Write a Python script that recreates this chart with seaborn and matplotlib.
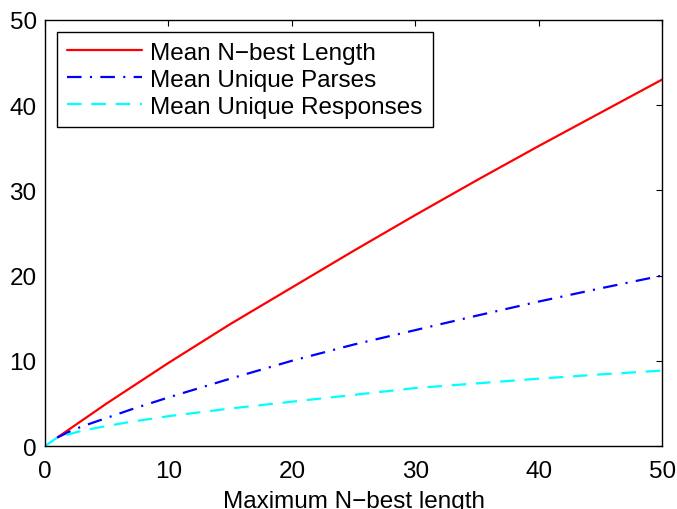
import numpy as np
import pandas as pd
import matplotlib
matplotlib.use('Agg')
import matplotlib.pyplot as plt
import seaborn as sns

# values
max_nbest = [0, 1, 2, 3, 5, 7, 10, 15, 20, 25, 30, 35, 40, 45, 50]
mean_nbest_length = [np.nan, 1.0, 2.0, 3.0, 5.0, 6.9, 9.75, 14.3, 18.6, 22.9, 27.1, 31.2, 35.2, 39.1, 43.0]
mean_unique_parses = [np.nan, 1.0, 1.7, 2.3, 3.3, 4.3, 5.7, 7.9, 10.0, 11.9, 13.6, 15.3, 16.95, 18.5, 20.0]
mean_unique_responses = [0.0, 1.0, 1.4, 1.8, 2.35, 2.85, 3.5, 4.4, 5.2, 6.0, 6.8, 7.35, 7.9, 8.4, 8.85]

sns.set_style('white')
plt.rcParams['font.family'] = ['Liberation Sans', 'DejaVu Sans']
plt.rcParams['text.color'] = 'black'
plt.rcParams['axes.labelcolor'] = 'black'
plt.rcParams['lines.scale_dashes'] = False

fig = plt.figure(figsize=(6.77, 5.10), dpi=100)
ax = fig.add_axes([0.0665, 0.1235, 0.9115, 0.8355])

sns.lineplot(x=max_nbest, y=mean_nbest_length, ax=ax, color='#ff0000',
             linestyle='-', linewidth=1.6, label='Mean N\u2212best Length')
sns.lineplot(x=max_nbest, y=mean_unique_parses, ax=ax, color='#0000ff',
             linestyle=(0, (10.5, 6, 1.5, 6)), linewidth=1.6, label='Mean Unique Parses')
sns.lineplot(x=max_nbest, y=mean_unique_responses, ax=ax, color='#00ffff',
             linestyle=(0, (10.5, 7)), linewidth=1.6, label='Mean Unique Responses')

ax.set_xlim(0, 50)
ax.set_ylim(0, 50)
ax.set_xticks(range(0, 51, 10))
ax.set_yticks(range(0, 51, 10))
ax.tick_params(direction='in', length=4, width=0.8, top=True, right=True,
               labelsize=17.5, colors='black')
ax.tick_params(axis='x', pad=10)
ax.tick_params(axis='y', pad=6)
for s in ax.spines.values():
    s.set_visible(True)
    s.set_color('black')
    s.set_linewidth(1.0)

ax.set_xlabel('Maximum N\u2212best length', fontsize=17.5, labelpad=6)
ax.set_ylabel('')

leg = ax.legend(loc='upper left', bbox_to_anchor=(0.02, 0.971), borderaxespad=0,
                fontsize=17.5, frameon=True, fancybox=False, framealpha=1,
                edgecolor='black', handlelength=3.1, handletextpad=0.33,
                labelspacing=0.2, borderpad=0.4)
leg.get_frame().set_linewidth(1.0)

fig.savefig('out.png', dpi=100)
